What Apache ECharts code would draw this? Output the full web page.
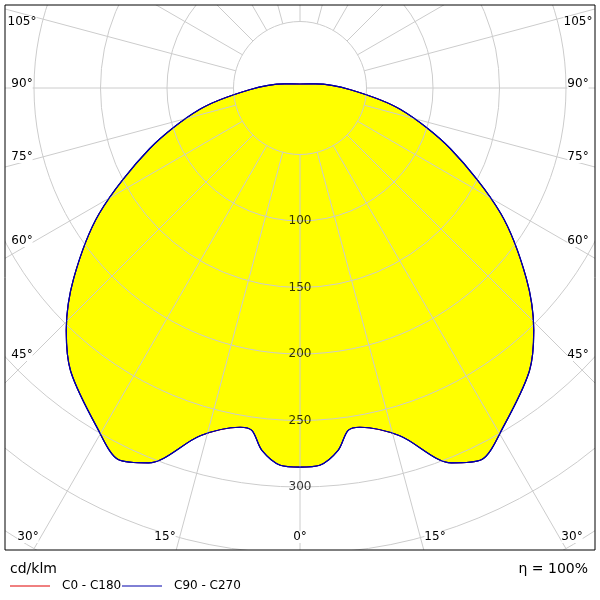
<!DOCTYPE html>
<html><head><meta charset="utf-8">
<script src="https://cdn.jsdelivr.net/npm/echarts@6/dist/echarts.min.js"></script>
<style>html,body{margin:0;padding:0;background:#fff}#c{width:600px;height:600px}</style>
</head><body><div id="c"></div>
<script>
// half-profile: angle from nadir (deg) and intensity (cd/klm)
const gammaDeg = [0, 3, 6, 8, 10, 16, 22, 26, 31, 39, 44, 50, 58, 68, 78, 88, 105, 180];
const intensity = [285, 284, 274, 260, 259, 272, 304, 311, 297, 274, 253, 222, 178, 122, 77, 38, 12, 3];
const radiusTicks = [100, 150, 200, 250, 300];
const spokeAngles = [0,15,30,45,60,75,90,105,120,135,150,165,180,195,210,225,240,255,270,285,300,315,330,345];
const angleLabels = ['105°','90°','75°','60°','45°','30°','15°','0°'];

const pts = [];
for (let i = gammaDeg.length - 1; i >= 0; i--) pts.push([intensity[i], 360 - gammaDeg[i]]);
for (let i = 1; i < gammaDeg.length; i++) pts.push([intensity[i], gammaDeg[i]]);
pts.push([intensity[gammaDeg.length-1], 180]);

const chart = echarts.init(document.getElementById('c'));
const F = 'Verdana, "DejaVu Sans", sans-serif';
const g = [];
g.push({type:'rect',shape:{x:0,y:0,width:600,height:5},style:{fill:'#fff'},z:100});
g.push({type:'rect',shape:{x:0,y:550,width:600,height:50},style:{fill:'#fff'},z:100});
g.push({type:'rect',shape:{x:0,y:0,width:5,height:600},style:{fill:'#fff'},z:100});
g.push({type:'rect',shape:{x:595,y:0,width:5,height:600},style:{fill:'#fff'},z:100});
g.push({type:'rect',shape:{x:5,y:5,width:590,height:545},style:{fill:null,stroke:'#000',lineWidth:1},z:101});
const ly = [22,84,157,241,355,537];
for (let i = 0; i < 6; i++) {
  const x = i === 5 ? 28 : 22;
  g.push({type:'text',x:x,y:ly[i],style:{text:angleLabels[i],font:'12px '+F,fill:'#000',align:'center',verticalAlign:'middle',backgroundColor:'#fff'},z:102});
  g.push({type:'text',x:600-x,y:ly[i],style:{text:angleLabels[i],font:'12px '+F,fill:'#000',align:'center',verticalAlign:'middle',backgroundColor:'#fff'},z:102});
}
g.push({type:'text',x:165,y:537,style:{text:'15°',font:'12px '+F,fill:'#000',align:'center',verticalAlign:'middle',backgroundColor:'#fff'},z:102});
g.push({type:'text',x:435,y:537,style:{text:'15°',font:'12px '+F,fill:'#000',align:'center',verticalAlign:'middle',backgroundColor:'#fff'},z:102});
g.push({type:'text',x:300,y:537,style:{text:'0°',font:'12px '+F,fill:'#000',align:'center',verticalAlign:'middle',backgroundColor:'#fff'},z:102});
g.push({type:'text',x:10,y:569,style:{text:'cd/klm',font:'14px '+F,fill:'#000',verticalAlign:'middle'},z:102});
g.push({type:'text',x:588,y:569,style:{text:'η = 100%',font:'14px '+F,fill:'#000',align:'right',verticalAlign:'middle'},z:102});
g.push({type:'line',shape:{x1:10,y1:586,x2:50,y2:586},style:{stroke:'#e00000',lineWidth:1},z:102});
g.push({type:'text',x:62,y:586,style:{text:'C0 - C180',font:'12px '+F,fill:'#000',verticalAlign:'middle'},z:102});
g.push({type:'line',shape:{x1:122,y1:586,x2:162,y2:586},style:{stroke:'#0000aa',lineWidth:1},z:102});
g.push({type:'text',x:174,y:586,style:{text:'C90 - C270',font:'12px '+F,fill:'#000',verticalAlign:'middle'},z:102});

const spokes = spokeAngles.map(a => ({type:'line',coordinateSystem:'polar',data:[[50,a],[400,a]],symbol:'none',
  silent:true,lineStyle:{color:'#cccccc',width:1},z:4}));

chart.setOption({
  animation:false,
  polar:{center:[300,88],radius:532},
  angleAxis:{type:'value',min:0,max:360,interval:15,startAngle:270,clockwise:true,
    axisLine:{show:false},axisTick:{show:false},axisLabel:{show:false},splitLine:{show:false}},
  radiusAxis:{type:'value',min:0,max:400,interval:50,
    axisLine:{show:false},axisTick:{show:false},axisLabel:{show:false},
    splitLine:{lineStyle:{color:'#cccccc',width:1}},z:5},
  series:[
    {type:'line',coordinateSystem:'polar',data:pts,symbol:'none',smooth:0.3,
     lineStyle:{color:'#e00000',width:1},z:1},
    {type:'line',coordinateSystem:'polar',data:pts,symbol:'none',smooth:0.3,
     lineStyle:{color:'#0000aa',width:1.2},areaStyle:{color:'#ffff00',opacity:1},z:1},
    ...spokes,
    {type:'line',coordinateSystem:'polar',data:pts,symbol:'none',smooth:0.3,
     lineStyle:{color:'#0000aa',width:1.2},z:6},
    {type:'scatter',coordinateSystem:'polar',data:radiusTicks.map(r=>[r,0]),symbolSize:0,z:10,
     label:{show:true,position:'inside',formatter:p=>String(p.value[0]),color:'#000',fontSize:12,fontFamily:F}}
  ],
  graphic:g
});
</script></body></html>
